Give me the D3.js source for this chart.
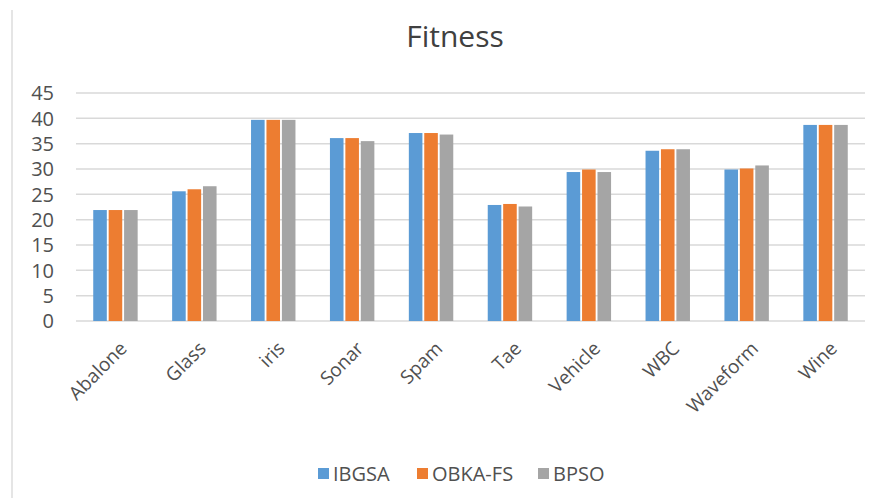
<!DOCTYPE html>
<html>
<head>
<meta charset="utf-8">
<script src="https://cdn.jsdelivr.net/npm/d3@7"></script>
<style>
  body { margin: 0; background: #fff; }
  text { font-family: "Open Sans", "Noto Sans", sans-serif; fill: #505050; }
</style>
</head>
<body>
<script>
// data
var categories = ["Abalone", "Glass", "iris", "Sonar", "Spam", "Tae", "Vehicle", "WBC", "Waveform", "Wine"];
var seriesNames = ["IBGSA", "OBKA-FS", "BPSO"];
var ibgsa  = [21.9, 25.6, 39.7, 36.1, 37.1, 22.9, 29.4, 33.6, 29.9, 38.7];
var obkafs = [21.9, 26.0, 39.7, 36.1, 37.1, 23.1, 29.9, 33.9, 30.1, 38.7];
var bpso   = [21.9, 26.6, 39.7, 35.5, 36.8, 22.6, 29.4, 33.9, 30.7, 38.7];
var yTicks = [0, 5, 10, 15, 20, 25, 30, 35, 40, 45];
var colors = ["#5B9BD5", "#ED7D31", "#A5A5A5"];

var width = 886, height = 498;
var margin = {top: 93, right: 21, bottom: 175, left: 76};

var svg = d3.select("body").append("svg")
  .attr("width", width)
  .attr("height", height);

// left edge of the chart frame
svg.append("line")
  .attr("x1", 12).attr("x2", 12)
  .attr("y1", 10).attr("y2", height)
  .attr("stroke", "#dcdcdc")
  .attr("stroke-width", 1.5);

var x = d3.scaleBand()
  .domain(categories)
  .range([margin.left, width - margin.right])
  .paddingInner(0.39).paddingOuter(0.195);

var xs = d3.scaleBand()
  .domain(seriesNames)
  .range([0, x.bandwidth()])
  .padding(0.12);

var y = d3.scaleLinear()
  .domain([0, 45])
  .range([height - margin.bottom - 2, margin.top]);

// gridlines
svg.append("g")
  .selectAll("line")
  .data(yTicks)
  .join("line")
  .attr("x1", margin.left).attr("x2", width - margin.right)
  .attr("y1", d => y(d)).attr("y2", d => y(d))
  .attr("stroke", "#d9d9d9")
  .attr("stroke-width", 1.5);

// y labels
svg.append("g")
  .selectAll("text")
  .data(yTicks)
  .join("text")
  .attr("x", 54)
  .attr("y", d => y(d))
  .attr("dy", "0.36em")
  .attr("text-anchor", "end")
  .style("font-size", "20px")
  .text(d => d);

var rows = categories.map((c, i) => ({cat: c, vals: [ibgsa[i], obkafs[i], bpso[i]]}));

svg.append("g")
  .selectAll("g")
  .data(rows)
  .join("g")
  .attr("transform", d => "translate(" + x(d.cat) + ",0)")
  .selectAll("rect")
  .data(d => d.vals.map((v, j) => ({name: seriesNames[j], v: v, j: j})))
  .join("rect")
  .attr("x", d => xs(d.name))
  .attr("width", xs.bandwidth())
  .attr("y", d => y(d.v))
  .attr("height", d => y(0) - y(d.v))
  .attr("fill", d => colors[d.j]);

// x labels rotated
svg.append("g")
  .selectAll("text")
  .data(categories)
  .join("text")
  .attr("transform", d => "translate(" + (x(d) + x.bandwidth() / 2 + 8) + "," + (y(0) + 24) + ") rotate(-45)")
  .attr("text-anchor", "end")
  .attr("dy", "0.35em")
  .style("font-size", "19px")
  .text(d => d);

// title
svg.append("text")
  .attr("x", 455).attr("y", 47)
  .attr("text-anchor", "middle")
  .style("font-size", "30px")
  .style("fill", "#404040")
  .text("Fitness");

// legend
var legend = svg.append("g").attr("transform", "translate(318,474)");
var offsets = [0, 99, 220];
seriesNames.forEach(function (n, i) {
  var g = legend.append("g").attr("transform", "translate(" + offsets[i] + ",0)");
  g.append("rect").attr("x", 0).attr("y", -6).attr("width", 11).attr("height", 11).attr("fill", colors[i]);
  g.append("text").attr("x", 15).attr("y", 0).attr("dy", "0.36em").style("font-size", "20px").text(n);
});
</script>
</body>
</html>
